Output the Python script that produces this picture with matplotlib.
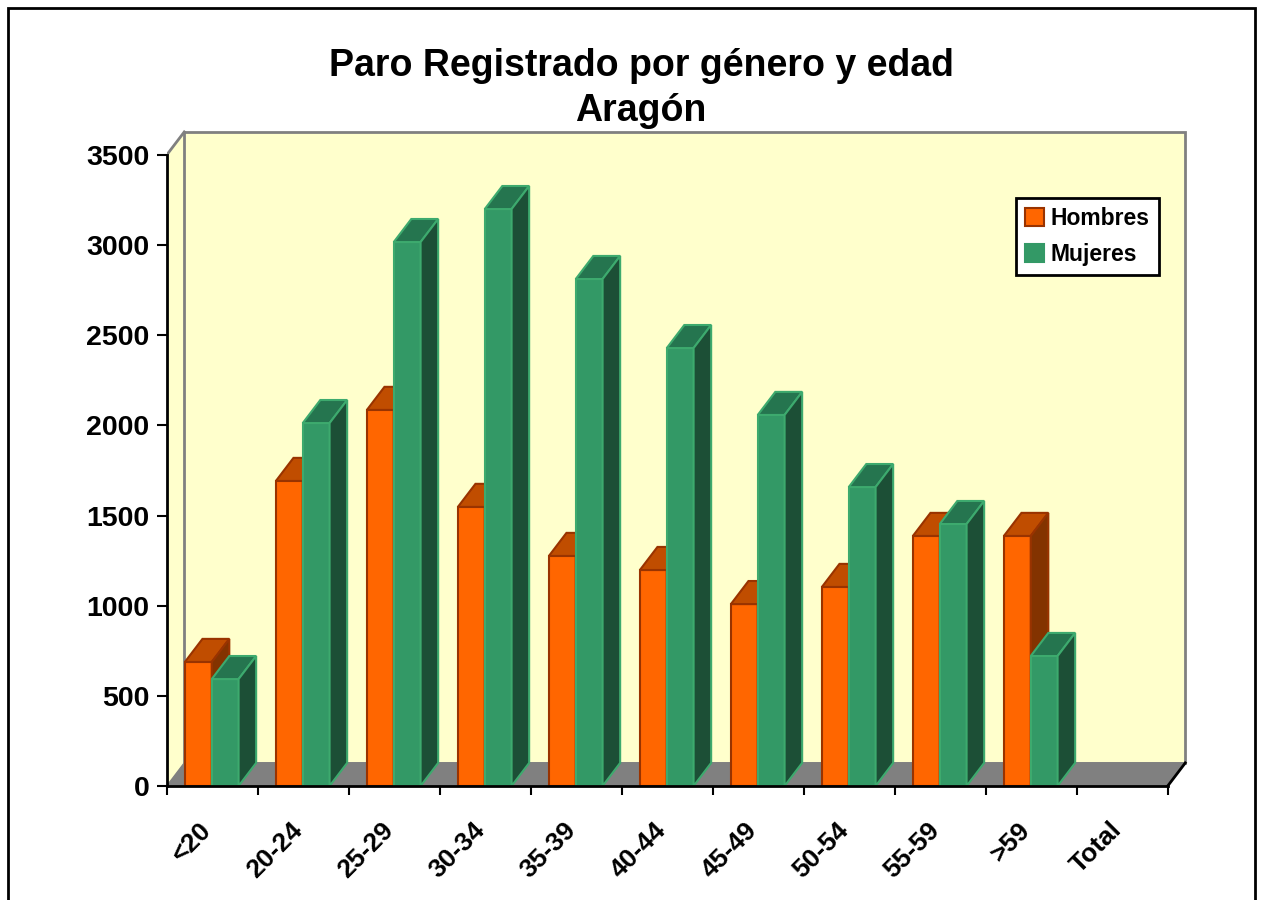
import matplotlib
matplotlib.use('Agg')
import matplotlib.pyplot as plt
from matplotlib.patches import Polygon, Rectangle, Patch
import numpy as np

plt.rcParams['font.family'] = ['Liberation Sans', 'DejaVu Sans']
plt.rcParams['font.weight'] = 'bold'

categorias = ['<20', '20-24', '25-29', '30-34', '35-39', '40-44', '45-49',
              '50-54', '55-59', '>59', 'Total']
hombres = [688, 1692, 2086, 1548, 1276, 1198, 1009, 1104, 1387, 1387, np.nan]
mujeres = [593, 2013, 3017, 3200, 2812, 2429, 2058, 1658, 1453, 721, np.nan]

# estilo 3D tipo Excel
DX, DY = 0.193, 128      # profundidad en unidades de categoria / valor
W = 0.295                # ancho de la cara frontal
YMAX = 3500
n = len(categorias)

fig = plt.figure(figsize=(12.63, 9), dpi=100)
ax = fig.add_axes([166.7 / 1263, 114 / 900, (1188 - 166.7) / 1263, 661 / 900])
ax.set_xlim(0, (1188 - 166.7) / 91)
ax.set_ylim(0, 661 / 0.18029)
ax.patch.set_visible(False)

# paredes y suelo
pared = '#FFFFCC'
ax.add_patch(Polygon([(0, 0), (0, YMAX), (DX, YMAX + DY), (DX, DY)],
                     closed=True, facecolor=pared, edgecolor='none', zorder=0))
ax.plot([0, DX], [YMAX, YMAX + DY], color='#808080', lw=2, zorder=1)
ax.add_patch(Rectangle((DX, DY), n, YMAX, facecolor=pared,
                       edgecolor='#808080', lw=2, zorder=0))
ax.add_patch(Polygon([(0, 0), (n, 0), (n + DX, DY), (DX, DY)], closed=True,
                     facecolor='#808080', edgecolor='#808080', lw=1, zorder=1))
ax.plot([n, n + DX], [0, DY], color='black', lw=2, zorder=6, clip_on=False)


def barras_3d(x0, vals, front, top, side, edge, z):
    vals = np.asarray(vals, dtype=float)
    ok = ~np.isnan(vals)
    ax.bar(x0[ok], vals[ok], width=W, align='edge', color=front,
           edgecolor=edge, linewidth=1.5, zorder=z)
    for x, v in zip(x0[ok], vals[ok]):
        ax.add_patch(Polygon([(x, v), (x + W, v), (x + W + DX, v + DY), (x + DX, v + DY)],
                             closed=True, facecolor=top, edgecolor=edge, lw=1.5, zorder=z))
        ax.add_patch(Polygon([(x + W, 0), (x + W + DX, DY), (x + W + DX, v + DY), (x + W, v)],
                             closed=True, facecolor=side, edgecolor=edge, lw=1.5, zorder=z))


idx = np.arange(n)
barras_3d(idx + 0.2, hombres, '#FF6600', '#C04D00', '#833300', '#993300', 3)
barras_3d(idx + 0.2 + W, mujeres, '#339966', '#25754F', '#1C4F36', '#3DAA6E', 4)

# ejes
for s in ['top', 'right']:
    ax.spines[s].set_visible(False)
ax.spines['left'].set_bounds(0, YMAX)
ax.spines['bottom'].set_bounds(0, n)
ax.spines['left'].set_linewidth(2)
ax.spines['bottom'].set_linewidth(2)
ax.spines['left'].set_zorder(6)
ax.spines['bottom'].set_zorder(6)

ax.set_yticks(np.arange(0, YMAX + 1, 500))
ax.tick_params(axis='y', length=7.5, width=1.5, pad=5, labelsize=20.5)
for lbl in ax.get_yticklabels():
    lbl.set_fontweight('bold')

ax.set_xticks(np.arange(0, n + 1))
ax.set_xticklabels([])
ax.tick_params(axis='x', which='major', length=6.5, width=1.5)
ax.set_xticks(idx + 0.45, categorias, minor=True)
ax.tick_params(axis='x', which='minor', length=0, pad=29, labelsize=19)
for lbl in ax.get_xticklabels(minor=True):
    lbl.set_rotation(45)
    lbl.set_ha('right')
    lbl.set_va('center')
    lbl.set_rotation_mode('anchor')
    lbl.set_fontweight('bold')

# leyenda
handles = [Patch(facecolor='#FF6600', edgecolor='#993300', lw=1.5, label='Hombres'),
           Patch(facecolor='#339966', edgecolor='#339966', lw=1.5, label='Mujeres')]
leg = ax.legend(handles=handles, loc='upper left', bbox_to_anchor=(1016 / 1263, 1 - 198 / 900),
                bbox_transform=fig.transFigure, fancybox=False, framealpha=1,
                edgecolor='black', prop={'size': 16.5, 'weight': 'bold'},
                handlelength=0.8, handleheight=0.8, handletextpad=0.3,
                borderpad=0.4, labelspacing=0.55, borderaxespad=0)
leg.get_frame().set_linewidth(2)
leg.set_zorder(10)

fig.text(641 / 1263, 1 - 48 / 900, 'Paro Registrado por género y edad\nAragón',
         ha='center', va='top', fontsize=27, fontweight='bold', linespacing=1.32)

fig.patches.append(Rectangle((8 / 1263, -0.05), 1247 / 1263, 1.05 - 8 / 900,
                             transform=fig.transFigure, fill=False,
                             edgecolor='black', lw=2))

fig.savefig('out.png', dpi=100, facecolor='white')
